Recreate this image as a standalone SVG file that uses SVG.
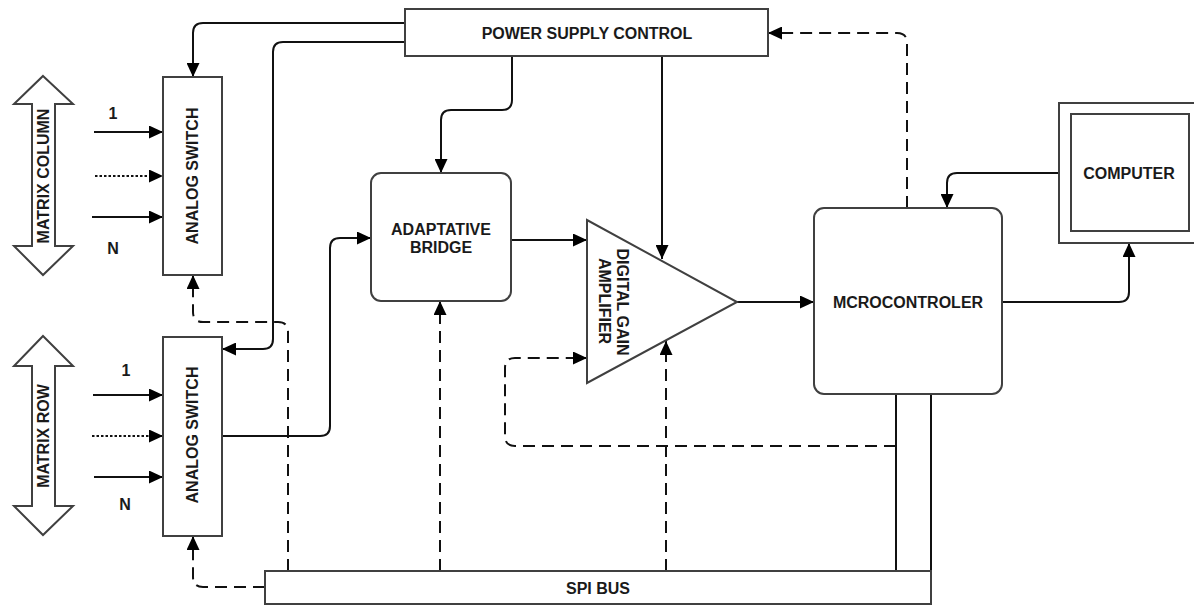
<svg xmlns="http://www.w3.org/2000/svg" width="1194" height="606" viewBox="0 0 1194 606">
<style>
.box{fill:#fff;stroke:#404040;stroke-width:2}
.t{font-family:"Liberation Sans",Arial,sans-serif;font-weight:bold;font-size:16px;fill:#1a1a1a;text-anchor:middle}
.c{fill:none;stroke:#111;stroke-width:2}
.d{fill:none;stroke:#111;stroke-width:2;stroke-dasharray:12 7}
.dot{fill:none;stroke:#111;stroke-width:2;stroke-dasharray:2.5 2}
</style>
<defs>
<marker id="ah" markerUnits="userSpaceOnUse" markerWidth="14" markerHeight="13" refX="14" refY="6.5" orient="auto" viewBox="0 0 14 13">
<path d="M0,0 L14,6.5 L0,13 z" fill="#000" stroke="none"/>
</marker>
</defs>
<rect width="1194" height="606" fill="#fff"/>

<g id="connectors">
<path class="c" d="M405,23 H203 Q193,23 193,33 V77" marker-end="url(#ah)"/>
<path class="c" d="M405,42 H283 Q273,42 273,52 V339 Q273,349 263,349 H222" marker-end="url(#ah)"/>
<path class="c" d="M512,56 V100 Q512,110 502,110 H451 Q441,110 441,120 V173" marker-end="url(#ah)"/>
<path class="c" d="M662,56 V259" marker-end="url(#ah)"/>
<path class="c" d="M511,240 H587" marker-end="url(#ah)"/>
<path class="c" d="M737,302 H814" marker-end="url(#ah)"/>
<path class="d" d="M907,208 V43 Q907,33 897,33 H768" marker-end="url(#ah)"/>
<path class="c" d="M1059,173 H957 Q947,173 947,183 V208" marker-end="url(#ah)"/>
<path class="c" d="M1002,302 H1119 Q1129,302 1129,292 V243" marker-end="url(#ah)"/>
<path class="c" d="M222,436 H320 Q330,436 330,426 V248 Q330,238 340,238 H371" marker-end="url(#ah)"/>
<path class="d" d="M288,571 V332 Q288,322 278,322 H203 Q193,322 193,312 V275" marker-end="url(#ah)"/>
<path class="d" d="M265,587 H203 Q193,587 193,577 V536" marker-end="url(#ah)"/>
<path class="d" d="M440,571 V301" marker-end="url(#ah)"/>
<path class="d" d="M666,571 V341" marker-end="url(#ah)"/>
<path class="d" d="M896,446 H515 Q505,446 505,436 V368 Q505,358 515,358 H587" marker-end="url(#ah)"/>
<path class="c" d="M896,394 V571"/>
<path class="c" d="M931,394 V571"/>
<path class="c" d="M94,132 H163" marker-end="url(#ah)"/>
<path class="dot" d="M95,176 H163" marker-end="url(#ah)"/>
<path class="c" d="M92,217 H163" marker-end="url(#ah)"/>
<path class="c" d="M93,395 H163" marker-end="url(#ah)"/>
<path class="dot" d="M92,436 H163" marker-end="url(#ah)"/>
<path class="c" d="M94,477 H163" marker-end="url(#ah)"/>
</g>

<g id="matrix-column">
<polygon class="box" points="43,76 73,104 55,104 55,246 73,246 43,275 14,246 32,246 32,104 14,104"/>
<text class="t" transform="translate(43,176) rotate(-90)" x="0" y="6">MATRIX COLUMN</text>
<text class="t" x="113" y="119">1</text>
<text class="t" x="113" y="254">N</text>
</g>

<g id="matrix-row">
<polygon class="box" points="43,336 73,366 55,366 55,506 73,506 43,535 14,506 32,506 32,366 14,366"/>
<text class="t" transform="translate(43,436) rotate(-90)" x="0" y="6">MATRIX ROW</text>
<text class="t" x="126" y="376">1</text>
<text class="t" x="125" y="510">N</text>
</g>

<g id="analog-switch-1">
<rect class="box" x="163" y="77" width="59" height="198"/>
<text class="t" transform="translate(192,176) rotate(-90)" x="0" y="6">ANALOG SWITCH</text>
</g>

<g id="analog-switch-2">
<rect class="box" x="163" y="337" width="59" height="199"/>
<text class="t" transform="translate(192,435) rotate(-90)" x="0" y="6">ANALOG SWITCH</text>
</g>

<g id="power-supply-control">
<rect class="box" x="405" y="9" width="363" height="47"/>
<text class="t" x="587" y="39">POWER SUPPLY CONTROL</text>
</g>

<g id="adaptative-bridge">
<rect class="box" x="371" y="173" width="140" height="128" rx="10"/>
<text class="t" x="441" y="235">ADAPTATIVE</text>
<text class="t" x="441" y="253">BRIDGE</text>
</g>

<g id="digital-gain-amplifier">
<polygon class="box" points="587,220 587,383 737,302"/>
<text class="t" transform="translate(623,302) rotate(90)" x="0" y="6">DIGITAL GAIN</text>
<text class="t" transform="translate(605,301) rotate(90)" x="0" y="6">AMPLIFIER</text>
</g>

<g id="microcontroler">
<rect class="box" x="814" y="208" width="188" height="186" rx="10"/>
<text class="t" x="908" y="308">MCROCONTROLER</text>
</g>

<g id="computer">
<rect class="box" x="1059" y="103" width="142" height="140"/>
<rect class="box" x="1071" y="114" width="118" height="117"/>
<text class="t" x="1129" y="179">COMPUTER</text>
</g>

<g id="spi-bus">
<rect class="box" x="265" y="571" width="666" height="33"/>
<text class="t" x="598" y="594">SPI BUS</text>
</g>
</svg>
